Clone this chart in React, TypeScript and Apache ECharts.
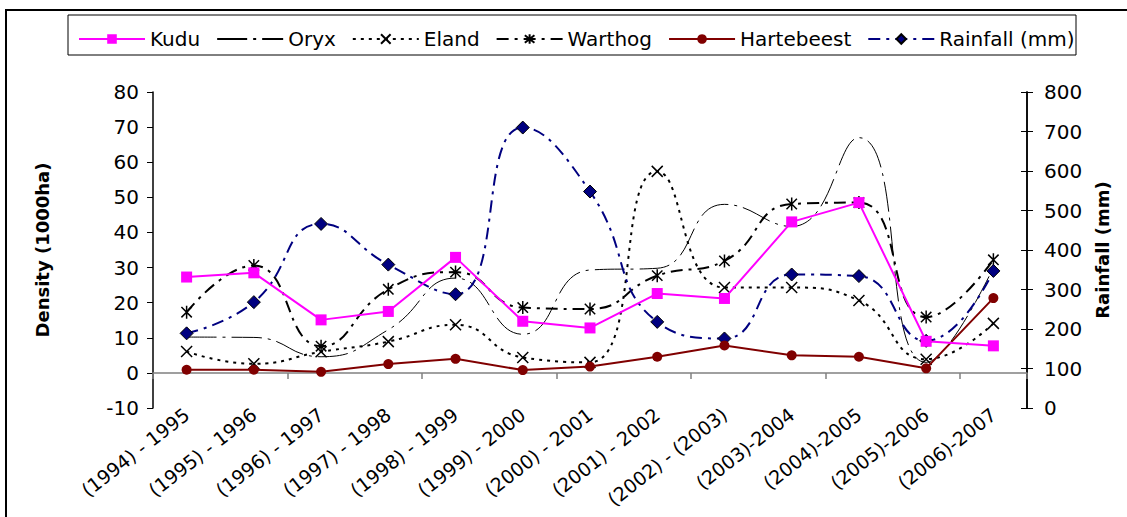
import React, { useEffect, useRef } from "react";
import * as echarts from "echarts";

const categories = [
  "(1994) - 1995", "(1995) - 1996", "(1996) - 1997", "(1997) - 1998", "(1998) - 1999",
  "(1999) - 2000", "(2000) - 2001", "(2001) - 2002", "(2002) - (2003)", "(2003)-2004",
  "(2004)-2005", "(2005)-2006", "(2006)-2007",
];
const kudu = [27.3, 28.5, 15.1, 17.5, 32.9, 14.7, 12.8, 22.6, 21.2, 43.0, 48.5, 9.0, 7.7];
const oryx = [10.2, 10.1, 4.6, 12.3, 27.0, 11.0, 29.3, 29.8, 48.0, 41.7, 67.0, 3.0, 30.0];
const eland = [6.1, 2.6, 6.0, 8.9, 13.7, 4.4, 3.0, 57.4, 24.3, 24.3, 20.6, 3.9, 14.1];
const warthog = [17.3, 30.6, 7.6, 23.8, 28.7, 18.6, 18.2, 27.7, 31.9, 48.1, 48.5, 15.9, 32.2];
const hartebeest = [0.9, 0.9, 0.3, 2.5, 4.0, 0.8, 1.8, 4.6, 7.8, 5.0, 4.6, 1.3, 21.3];
const rainfall = [189, 268, 466, 363, 288, 710, 548, 218, 176, 338, 334, 170, 347];

const FONT = "DejaVu Sans";
const X_SYM = "path://M0 0L10 10M10 0L0 10";
const AST_SYM = "path://M1 1L9 9M9 1L1 9M5 0L5 10";

export default function App() {
  const ref = useRef<HTMLDivElement>(null);
  useEffect(() => {
    const chart = echarts.init(ref.current!, null, { renderer: "svg" });
    chart.setOption({
      animation: false,
      backgroundColor: "#fff",
      textStyle: { fontFamily: FONT },
      graphic: [
        { type: "rect", shape: { x: 6, y: 10, width: 1200, height: 600 }, style: { fill: "none", stroke: "#000", lineWidth: 2 } },
        { type: "rect", shape: { x: 68, y: 15, width: 1008, height: 40 }, style: { fill: "none", stroke: "#000", lineWidth: 1 } },
      ],
      legend: {
        left: 73,
        top: 24,
        itemWidth: 66,
        itemHeight: 12,
        itemGap: 16,
        textStyle: { fontFamily: FONT, fontSize: 20, color: "#000" },
        data: [
          "Kudu",
          { name: "Oryx", itemStyle: { opacity: 0 } },
          "Eland",
          "Warthog",
          "Hartebeest",
          "Rainfall (mm)",
        ],
      },
      grid: { left: 153, right: 100, top: 92, bottom: 109, outerBoundsMode: "none", containLabel: false },
      xAxis: [
        {
          type: "category",
          data: categories,
          position: "bottom",
          axisLine: { show: false, onZero: false },
          axisTick: { show: false },
          axisLabel: { rotate: 38, fontFamily: FONT, fontSize: 19, color: "#000", margin: 4, interval: 0 },
        },
        {
          type: "category",
          data: categories,
          position: "bottom",
          axisLine: { show: true, onZero: true, onZeroAxisIndex: 0, lineStyle: { color: "#808080", width: 1.5 } },
          axisTick: { show: true, length: 6, lineStyle: { color: "#808080", width: 1.5 } },
          axisLabel: { show: false },
        },
      ],
      yAxis: [
        {
          type: "value",
          min: -10,
          max: 80,
          interval: 10,
          position: "left",
          name: "Density (1000ha)",
          nameLocation: "middle",
          nameGap: 102,
          nameTextStyle: { fontFamily: FONT, fontSize: 18, fontWeight: "bold", color: "#000" },
          axisLine: { show: true, lineStyle: { color: "#000", width: 1.5 } },
          axisTick: { show: true, length: 6, lineStyle: { color: "#000" } },
          axisLabel: { fontFamily: FONT, fontSize: 20, color: "#000", margin: 14 },
          splitLine: { show: false },
        },
        {
          type: "value",
          min: 0,
          max: 800,
          interval: 100,
          position: "right",
          name: "Rainfall (mm)",
          nameLocation: "middle",
          nameGap: 66,
          nameRotate: 90,
          nameTextStyle: { fontFamily: FONT, fontSize: 18, fontWeight: "bold", color: "#000" },
          axisLine: { show: true, lineStyle: { color: "#000", width: 1.5 } },
          axisTick: { show: true, length: 6, lineStyle: { color: "#000" } },
          axisLabel: { fontFamily: FONT, fontSize: 20, color: "#000", margin: 17 },
          splitLine: { show: false },
        },
        {
          type: "value",
          min: 0,
          max: 800,
          interval: 100,
          position: "right",
          axisLine: { show: true, lineStyle: { color: "#000", width: 1.5 } },
          axisTick: { show: true, inside: true, length: 6, lineStyle: { color: "#000" } },
          axisLabel: { show: false },
          splitLine: { show: false },
        },
      ],
      series: [
        {
          name: "Kudu",
          type: "line",
          data: kudu,
          symbol: "rect",
          symbolSize: 11,
          itemStyle: { color: "#FF00FF" },
          lineStyle: { color: "#FF00FF", width: 2 },
          z: 5,
        },
        {
          name: "Oryx",
          type: "line",
          data: oryx,
          smooth: 0.5,
          symbol: "none",
          itemStyle: { color: "#000" },
          lineStyle: { color: "#000", width: 1, type: [30, 6, 3, 6] },
        },
        {
          name: "Eland",
          type: "line",
          data: eland,
          smooth: 0.5,
          symbol: X_SYM,
          symbolSize: 11,
          itemStyle: { color: "rgba(0,0,0,0)", borderColor: "#000", borderWidth: 1.5 },
          lineStyle: { color: "#000", width: 2, type: [3, 5] },
        },
        {
          name: "Warthog",
          type: "line",
          data: warthog,
          smooth: 0.5,
          symbol: AST_SYM,
          symbolSize: 13,
          symbolKeepAspect: true,
          itemStyle: { color: "rgba(0,0,0,0)", borderColor: "#000", borderWidth: 1.5 },
          lineStyle: { color: "#000", width: 2, type: [12, 6, 3, 6] },
        },
        {
          name: "Hartebeest",
          type: "line",
          data: hartebeest,
          symbol: "circle",
          symbolSize: 10,
          itemStyle: { color: "#800000" },
          lineStyle: { color: "#800000", width: 2 },
          z: 4,
        },
        {
          name: "Rainfall (mm)",
          type: "line",
          yAxisIndex: 1,
          data: rainfall,
          smooth: 0.5,
          symbol: "diamond",
          symbolSize: 13,
          itemStyle: { color: "#000080", borderColor: "#000", borderWidth: 1 },
          lineStyle: { color: "#000080", width: 2, type: [12, 6, 3, 6] },
        },
      ],
    });
    return () => chart.dispose();
  }, []);
  return <div ref={ref} style={{ position: "fixed", left: 0, top: 0, width: 1127, height: 517 }} />;
}
